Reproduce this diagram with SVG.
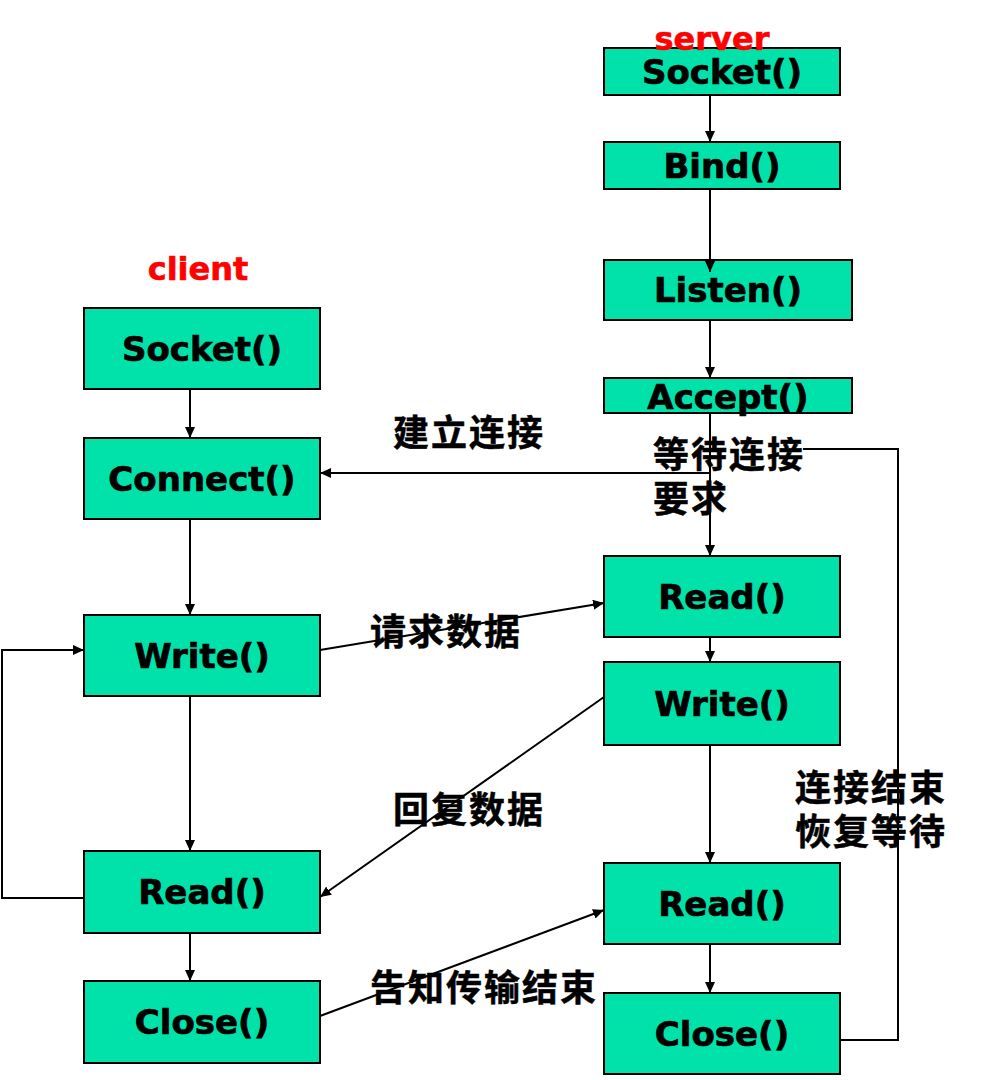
<svg xmlns="http://www.w3.org/2000/svg" width="993" height="1080" viewBox="0 0 993 1080">
<style>
.box{fill:#00E2A9;stroke:#000;stroke-width:2}
.bt{font-family:"DejaVu Sans",Verdana,sans-serif;font-weight:bold;font-size:34px;fill:#000;stroke:#000;stroke-width:0.7;text-anchor:middle}
.red{font-family:"DejaVu Sans",Verdana,sans-serif;font-weight:bold;font-size:32px;fill:#FF0000;stroke:#FF0000;stroke-width:0.6;text-anchor:middle}
.cn{font-family:"Noto Sans CJK SC","Noto Sans CJK JP",sans-serif;font-weight:bold;font-size:36px;fill:#000;stroke:#000;stroke-width:0.5;letter-spacing:2px}
.c{fill:none;stroke:#000;stroke-width:2}
</style>
<defs>
<marker id="ah" markerUnits="userSpaceOnUse" markerWidth="12" markerHeight="10" refX="11" refY="5" orient="auto">
<path d="M0,0 L11,5 L0,10 z" fill="#000"/>
</marker>
</defs>
<rect width="993" height="1080" fill="#fff"/>
<g id="s-socket"><rect class="box" x="604" y="48" width="236" height="47"/><text class="bt" x="722" y="84">Socket()</text></g>
<g id="s-bind"><rect class="box" x="604" y="142" width="236" height="47"/><text class="bt" x="722" y="178">Bind()</text></g>
<g id="s-listen"><rect class="box" x="604" y="260" width="248" height="60"/><text class="bt" x="728" y="302">Listen()</text></g>
<g id="s-accept"><rect class="box" x="604" y="378" width="248" height="35"/><text class="bt" x="728" y="409">Accept()</text></g>
<g id="s-read1"><rect class="box" x="604" y="556" width="236" height="81"/><text class="bt" x="722" y="609">Read()</text></g>
<g id="s-write"><rect class="box" x="604" y="662" width="236" height="83"/><text class="bt" x="722" y="716">Write()</text></g>
<g id="s-read2"><rect class="box" x="604" y="863" width="236" height="81"/><text class="bt" x="722" y="916">Read()</text></g>
<g id="s-close"><rect class="box" x="604" y="993" width="236" height="81"/><text class="bt" x="722" y="1046">Close()</text></g>
<g id="c-socket"><rect class="box" x="84" y="308" width="236" height="81"/><text class="bt" x="202" y="361">Socket()</text></g>
<g id="c-connect"><rect class="box" x="84" y="438" width="236" height="81"/><text class="bt" x="202" y="491">Connect()</text></g>
<g id="c-write"><rect class="box" x="84" y="615" width="236" height="81"/><text class="bt" x="202" y="668">Write()</text></g>
<g id="c-read"><rect class="box" x="84" y="851" width="236" height="82"/><text class="bt" x="202" y="904">Read()</text></g>
<g id="c-close"><rect class="box" x="84" y="981" width="236" height="82"/><text class="bt" x="202" y="1034">Close()</text></g>
<g id="connectors">
<line class="c" x1="710" y1="95" x2="710" y2="142" marker-end="url(#ah)"/>
<line class="c" x1="710" y1="189" x2="710" y2="272" marker-end="url(#ah)"/>
<line class="c" x1="710" y1="320" x2="710" y2="378" marker-end="url(#ah)"/>
<line class="c" x1="710" y1="413" x2="710" y2="556" marker-end="url(#ah)"/>
<line class="c" x1="710" y1="473" x2="320" y2="473" marker-end="url(#ah)"/>
<polyline class="c" points="803,449 898,449 898,1040 840,1040"/>
<line class="c" x1="710" y1="637" x2="710" y2="662" marker-end="url(#ah)"/>
<line class="c" x1="710" y1="745" x2="710" y2="863" marker-end="url(#ah)"/>
<line class="c" x1="710" y1="944" x2="710" y2="993" marker-end="url(#ah)"/>
<line class="c" x1="190" y1="389" x2="190" y2="438" marker-end="url(#ah)"/>
<line class="c" x1="190" y1="519" x2="190" y2="615" marker-end="url(#ah)"/>
<line class="c" x1="190" y1="696" x2="190" y2="851" marker-end="url(#ah)"/>
<line class="c" x1="190" y1="933" x2="190" y2="981" marker-end="url(#ah)"/>
<polyline class="c" points="84,898 2,898 2,650 84,650" marker-end="url(#ah)"/>
<line class="c" x1="320" y1="650" x2="604" y2="603" marker-end="url(#ah)"/>
<line class="c" x1="604" y1="697" x2="320" y2="897" marker-end="url(#ah)"/>
<line class="c" x1="320" y1="1016" x2="604" y2="910" marker-end="url(#ah)"/>
</g>
<g id="labels">
<text class="red" x="712" y="50">server</text>
<text class="red" x="198" y="280">client</text>
<text class="cn" x="393" y="446">建立连接</text>
<text class="cn" x="653" y="468">等待连接</text>
<text class="cn" x="653" y="512">要求</text>
<text class="cn" x="370" y="645">请求数据</text>
<text class="cn" x="393" y="823">回复数据</text>
<text class="cn" x="795" y="801">连接结束</text>
<text class="cn" x="795" y="845">恢复等待</text>
<text class="cn" x="370" y="1001">告知传输结束</text>
</g>
</svg>
